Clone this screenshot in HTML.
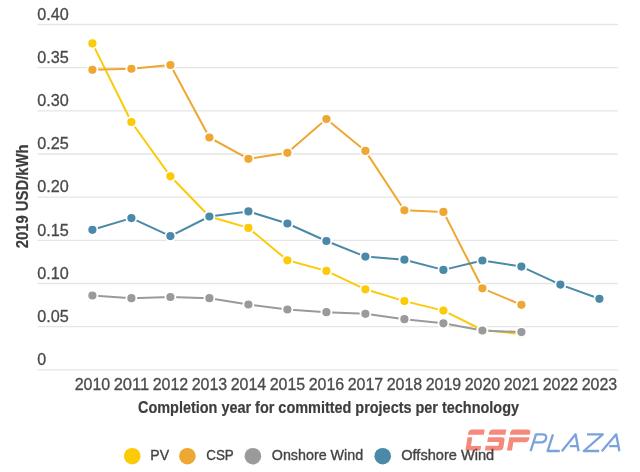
<!DOCTYPE html>
<html><head><meta charset="utf-8"><style>
html,body{margin:0;padding:0;background:#fff;}
body{width:640px;height:472px;overflow:hidden;position:relative;}
svg{position:absolute;left:0;top:0;will-change:transform;}
text{font-family:"Liberation Sans",sans-serif;}
.yl{font-size:16px;fill:#4a4a4a;stroke:#4a4a4a;stroke-width:0.3px;}
.xl{font-size:16px;fill:#4a4a4a;stroke:#4a4a4a;stroke-width:0.3px;}
.xt{font-size:16.5px;font-weight:bold;fill:#3d3d3d;stroke:#3d3d3d;stroke-width:0.2px;}
.yt{font-size:16.5px;font-weight:bold;fill:#3d3d3d;stroke:#3d3d3d;stroke-width:0.2px;}
.lg{font-size:14.5px;fill:#444;stroke:#444;stroke-width:0.35px;}
</style></head><body>
<svg width="640" height="472" viewBox="0 0 640 472">
<line x1="37.5" x2="617.8" y1="24.50" y2="24.50" stroke="#e5e5e5" stroke-width="1.35"/>
<line x1="37.5" x2="617.8" y1="67.66" y2="67.66" stroke="#e5e5e5" stroke-width="1.35"/>
<line x1="37.5" x2="617.8" y1="110.83" y2="110.83" stroke="#e5e5e5" stroke-width="1.35"/>
<line x1="37.5" x2="617.8" y1="153.99" y2="153.99" stroke="#e5e5e5" stroke-width="1.35"/>
<line x1="37.5" x2="617.8" y1="197.15" y2="197.15" stroke="#e5e5e5" stroke-width="1.35"/>
<line x1="37.5" x2="617.8" y1="240.31" y2="240.31" stroke="#e5e5e5" stroke-width="1.35"/>
<line x1="37.5" x2="617.8" y1="283.48" y2="283.48" stroke="#e5e5e5" stroke-width="1.35"/>
<line x1="37.5" x2="617.8" y1="326.64" y2="326.64" stroke="#e5e5e5" stroke-width="1.35"/>
<line x1="37.5" x2="617.8" y1="369.80" y2="369.80" stroke="#e5e5e5" stroke-width="1.35"/>
<text x="37.3" y="19.70" class="yl" textLength="31.50" lengthAdjust="spacingAndGlyphs">0.40</text>
<text x="37.3" y="62.86" class="yl" textLength="31.50" lengthAdjust="spacingAndGlyphs">0.35</text>
<text x="37.3" y="106.03" class="yl" textLength="31.50" lengthAdjust="spacingAndGlyphs">0.30</text>
<text x="37.3" y="149.19" class="yl" textLength="31.50" lengthAdjust="spacingAndGlyphs">0.25</text>
<text x="37.3" y="192.35" class="yl" textLength="31.50" lengthAdjust="spacingAndGlyphs">0.20</text>
<text x="37.3" y="235.51" class="yl" textLength="31.50" lengthAdjust="spacingAndGlyphs">0.15</text>
<text x="37.3" y="278.68" class="yl" textLength="31.50" lengthAdjust="spacingAndGlyphs">0.10</text>
<text x="37.3" y="321.84" class="yl" textLength="31.50" lengthAdjust="spacingAndGlyphs">0.05</text>
<text x="37.3" y="365.00" class="yl">0</text>
<text x="74.65" y="389.6" class="xl" textLength="35.50" lengthAdjust="spacingAndGlyphs">2010</text>
<text x="113.65" y="389.6" class="xl" textLength="35.50" lengthAdjust="spacingAndGlyphs">2011</text>
<text x="152.65" y="389.6" class="xl" textLength="35.50" lengthAdjust="spacingAndGlyphs">2012</text>
<text x="191.65" y="389.6" class="xl" textLength="35.50" lengthAdjust="spacingAndGlyphs">2013</text>
<text x="230.65" y="389.6" class="xl" textLength="35.50" lengthAdjust="spacingAndGlyphs">2014</text>
<text x="269.65" y="389.6" class="xl" textLength="35.50" lengthAdjust="spacingAndGlyphs">2015</text>
<text x="308.65" y="389.6" class="xl" textLength="35.50" lengthAdjust="spacingAndGlyphs">2016</text>
<text x="347.65" y="389.6" class="xl" textLength="35.50" lengthAdjust="spacingAndGlyphs">2017</text>
<text x="386.65" y="389.6" class="xl" textLength="35.50" lengthAdjust="spacingAndGlyphs">2018</text>
<text x="425.65" y="389.6" class="xl" textLength="35.50" lengthAdjust="spacingAndGlyphs">2019</text>
<text x="464.65" y="389.6" class="xl" textLength="35.50" lengthAdjust="spacingAndGlyphs">2020</text>
<text x="503.65" y="389.6" class="xl" textLength="35.50" lengthAdjust="spacingAndGlyphs">2021</text>
<text x="542.65" y="389.6" class="xl" textLength="35.50" lengthAdjust="spacingAndGlyphs">2022</text>
<text x="581.65" y="389.6" class="xl" textLength="35.50" lengthAdjust="spacingAndGlyphs">2023</text>
<polyline points="92.40,43.40 131.40,122.00 170.40,176.30 209.40,216.50 248.40,227.90 287.40,260.30 326.40,270.90 365.40,289.30 404.40,301.10 443.40,310.60 482.40,330.00 521.40,334.00" fill="none" stroke="#fbcb08" stroke-width="2" stroke-linejoin="round"/>
<polyline points="92.40,69.80 131.40,68.75 170.40,65.00 209.40,137.50 248.40,158.80 287.40,152.80 326.40,119.00 365.40,150.90 404.40,210.30 443.40,211.90 482.40,288.30 521.40,304.80" fill="none" stroke="#eea733" stroke-width="2" stroke-linejoin="round"/>
<polyline points="92.40,295.50 131.40,298.20 170.40,297.00 209.40,298.20 248.40,304.50 287.40,309.50 326.40,312.20 365.40,313.80 404.40,319.20 443.40,323.30 482.40,330.50 521.40,332.10" fill="none" stroke="#9a9a9a" stroke-width="2" stroke-linejoin="round"/>
<polyline points="92.40,229.80 131.40,218.10 170.40,236.10 209.40,216.50 248.40,211.40 287.40,223.50 326.40,241.00 365.40,256.60 404.40,259.70 443.40,269.90 482.40,260.50 521.40,266.60 560.40,284.60 599.40,298.80" fill="none" stroke="#4a8aa8" stroke-width="2" stroke-linejoin="round"/>
<circle cx="92.40" cy="43.40" r="5.0" fill="#fbcb08" stroke="#fff" stroke-width="1.8"/>
<circle cx="131.40" cy="122.00" r="5.0" fill="#fbcb08" stroke="#fff" stroke-width="1.8"/>
<circle cx="170.40" cy="176.30" r="5.0" fill="#fbcb08" stroke="#fff" stroke-width="1.8"/>
<circle cx="209.40" cy="216.50" r="5.0" fill="#fbcb08" stroke="#fff" stroke-width="1.8"/>
<circle cx="248.40" cy="227.90" r="5.0" fill="#fbcb08" stroke="#fff" stroke-width="1.8"/>
<circle cx="287.40" cy="260.30" r="5.0" fill="#fbcb08" stroke="#fff" stroke-width="1.8"/>
<circle cx="326.40" cy="270.90" r="5.0" fill="#fbcb08" stroke="#fff" stroke-width="1.8"/>
<circle cx="365.40" cy="289.30" r="5.0" fill="#fbcb08" stroke="#fff" stroke-width="1.8"/>
<circle cx="404.40" cy="301.10" r="5.0" fill="#fbcb08" stroke="#fff" stroke-width="1.8"/>
<circle cx="443.40" cy="310.60" r="5.0" fill="#fbcb08" stroke="#fff" stroke-width="1.8"/>
<circle cx="482.40" cy="330.00" r="5.0" fill="#fbcb08" stroke="#fff" stroke-width="1.8"/>
<circle cx="521.40" cy="334.00" r="5.0" fill="#fbcb08" stroke="#fff" stroke-width="1.8"/>
<circle cx="92.40" cy="69.80" r="5.0" fill="#eea733" stroke="#fff" stroke-width="1.8"/>
<circle cx="131.40" cy="68.75" r="5.0" fill="#eea733" stroke="#fff" stroke-width="1.8"/>
<circle cx="170.40" cy="65.00" r="5.0" fill="#eea733" stroke="#fff" stroke-width="1.8"/>
<circle cx="209.40" cy="137.50" r="5.0" fill="#eea733" stroke="#fff" stroke-width="1.8"/>
<circle cx="248.40" cy="158.80" r="5.0" fill="#eea733" stroke="#fff" stroke-width="1.8"/>
<circle cx="287.40" cy="152.80" r="5.0" fill="#eea733" stroke="#fff" stroke-width="1.8"/>
<circle cx="326.40" cy="119.00" r="5.0" fill="#eea733" stroke="#fff" stroke-width="1.8"/>
<circle cx="365.40" cy="150.90" r="5.0" fill="#eea733" stroke="#fff" stroke-width="1.8"/>
<circle cx="404.40" cy="210.30" r="5.0" fill="#eea733" stroke="#fff" stroke-width="1.8"/>
<circle cx="443.40" cy="211.90" r="5.0" fill="#eea733" stroke="#fff" stroke-width="1.8"/>
<circle cx="482.40" cy="288.30" r="5.0" fill="#eea733" stroke="#fff" stroke-width="1.8"/>
<circle cx="521.40" cy="304.80" r="5.0" fill="#eea733" stroke="#fff" stroke-width="1.8"/>
<circle cx="92.40" cy="295.50" r="5.0" fill="#9a9a9a" stroke="#fff" stroke-width="1.8"/>
<circle cx="131.40" cy="298.20" r="5.0" fill="#9a9a9a" stroke="#fff" stroke-width="1.8"/>
<circle cx="170.40" cy="297.00" r="5.0" fill="#9a9a9a" stroke="#fff" stroke-width="1.8"/>
<circle cx="209.40" cy="298.20" r="5.0" fill="#9a9a9a" stroke="#fff" stroke-width="1.8"/>
<circle cx="248.40" cy="304.50" r="5.0" fill="#9a9a9a" stroke="#fff" stroke-width="1.8"/>
<circle cx="287.40" cy="309.50" r="5.0" fill="#9a9a9a" stroke="#fff" stroke-width="1.8"/>
<circle cx="326.40" cy="312.20" r="5.0" fill="#9a9a9a" stroke="#fff" stroke-width="1.8"/>
<circle cx="365.40" cy="313.80" r="5.0" fill="#9a9a9a" stroke="#fff" stroke-width="1.8"/>
<circle cx="404.40" cy="319.20" r="5.0" fill="#9a9a9a" stroke="#fff" stroke-width="1.8"/>
<circle cx="443.40" cy="323.30" r="5.0" fill="#9a9a9a" stroke="#fff" stroke-width="1.8"/>
<circle cx="482.40" cy="330.50" r="5.0" fill="#9a9a9a" stroke="#fff" stroke-width="1.8"/>
<circle cx="521.40" cy="332.10" r="5.0" fill="#9a9a9a" stroke="#fff" stroke-width="1.8"/>
<circle cx="92.40" cy="229.80" r="5.0" fill="#4a8aa8" stroke="#fff" stroke-width="1.8"/>
<circle cx="131.40" cy="218.10" r="5.0" fill="#4a8aa8" stroke="#fff" stroke-width="1.8"/>
<circle cx="170.40" cy="236.10" r="5.0" fill="#4a8aa8" stroke="#fff" stroke-width="1.8"/>
<circle cx="209.40" cy="216.50" r="5.0" fill="#4a8aa8" stroke="#fff" stroke-width="1.8"/>
<circle cx="248.40" cy="211.40" r="5.0" fill="#4a8aa8" stroke="#fff" stroke-width="1.8"/>
<circle cx="287.40" cy="223.50" r="5.0" fill="#4a8aa8" stroke="#fff" stroke-width="1.8"/>
<circle cx="326.40" cy="241.00" r="5.0" fill="#4a8aa8" stroke="#fff" stroke-width="1.8"/>
<circle cx="365.40" cy="256.60" r="5.0" fill="#4a8aa8" stroke="#fff" stroke-width="1.8"/>
<circle cx="404.40" cy="259.70" r="5.0" fill="#4a8aa8" stroke="#fff" stroke-width="1.8"/>
<circle cx="443.40" cy="269.90" r="5.0" fill="#4a8aa8" stroke="#fff" stroke-width="1.8"/>
<circle cx="482.40" cy="260.50" r="5.0" fill="#4a8aa8" stroke="#fff" stroke-width="1.8"/>
<circle cx="521.40" cy="266.60" r="5.0" fill="#4a8aa8" stroke="#fff" stroke-width="1.8"/>
<circle cx="560.40" cy="284.60" r="5.0" fill="#4a8aa8" stroke="#fff" stroke-width="1.8"/>
<circle cx="599.40" cy="298.80" r="5.0" fill="#4a8aa8" stroke="#fff" stroke-width="1.8"/>
<text x="138.0" y="412.5" class="xt" textLength="381" lengthAdjust="spacingAndGlyphs">Completion year for committed projects per technology</text>
<text transform="translate(28.0,248.3) rotate(-90)" class="yt" textLength="104" lengthAdjust="spacingAndGlyphs">2019 USD/kWh</text>

<g transform="translate(465.4,450.6) skewX(-9)" fill="#f58a7c">
  <path d="M2.8,-21 H16 V-15.8 H0 V-18 Q0.6,-21 2.8,-21 Z"/>
  <path d="M0,-13.3 H4.8 V-4.6 H15 V0 H0 Z"/>
  <path d="M23.5,-21 H37.5 V-15.8 H20.8 V-18 Q21.4,-21 23.5,-21 Z"/>
  <path d="M20.5,-13.3 H34 Q37.5,-13.3 37.5,-10 V-3.5 Q37.5,0 34,0 H19.5 V-4.8 H32.3 V-8.5 H20.5 Z"/>
  <path d="M44.2,-21 H59 Q62,-21 62,-18.5 V-15.8 H41.9 V-18 Q42.5,-21 44.2,-21 Z"/>
  <path d="M41.9,-13.3 H62 V-11.5 Q62,-8.4 58.5,-8.4 H46.6 V0 H41.5 Z"/>
</g>
<g fill="none" stroke="#7ba2db" stroke-width="2.3" stroke-linejoin="round" stroke-linecap="butt">
  <path d="M530.6,451.2 L536.0,434.3 H542.5 Q546.8,434.3 546.1,438.2 Q545.3,442.3 541,442.3 H533.5"/>
  <path d="M553.0,434.3 L547.6,451.0 H559.8"/>
  <path d="M561.8,451.2 L575.6,434.3 L578.6,451.2 M569.8,446.2 H577.6"/>
  <path d="M587,434.3 H602.8 L583.8,451.0 H599.2"/>
  <path d="M601.8,451.2 L616.2,434.3 L619.4,451.2 M609.2,446.1 H618.6"/>
</g>

<circle cx="132.2" cy="456.2" r="8.3" fill="#fbcb08"/>
<text x="150.3" y="459.5" class="lg" textLength="18.8" lengthAdjust="spacingAndGlyphs">PV</text>
<circle cx="187.4" cy="456.2" r="8.3" fill="#eea733"/>
<text x="206.2" y="459.5" class="lg" textLength="27.6" lengthAdjust="spacingAndGlyphs">CSP</text>
<circle cx="252.9" cy="456.2" r="8.3" fill="#9a9a9a"/>
<text x="271.8" y="459.5" class="lg" textLength="91.4" lengthAdjust="spacingAndGlyphs">Onshore Wind</text>
<circle cx="382.7" cy="456.2" r="8.3" fill="#4a8aa8"/>
<text x="401.2" y="459.5" class="lg" textLength="93.0" lengthAdjust="spacingAndGlyphs">Offshore Wind</text>
</svg>
</body></html>
